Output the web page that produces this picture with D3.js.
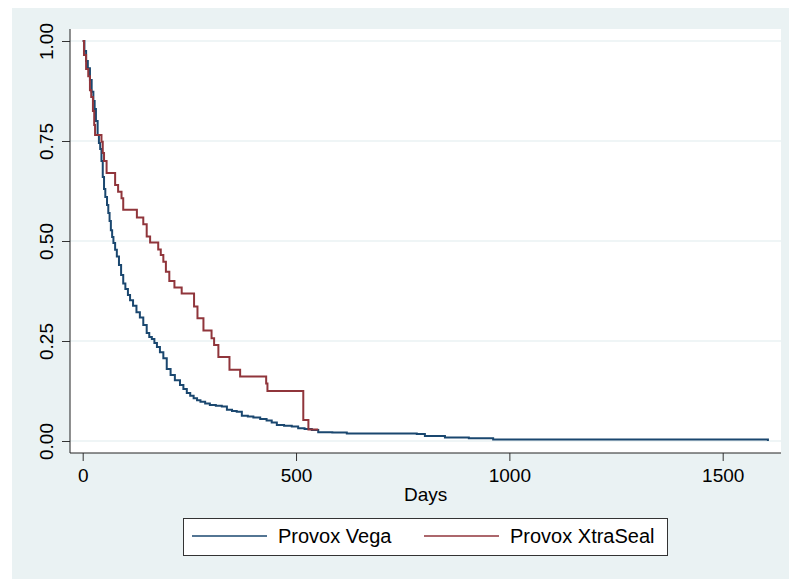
<!DOCTYPE html>
<html lang="en">
<head>
  <meta charset="UTF-8">
  <script src="https://cdn.jsdelivr.net/npm/d3@7"></script>
  <title>Kaplan-Meier Provox</title>
  <style>
    body { margin: 0; background: #fff; }
    text { font-family: "Liberation Sans", Arial, Helvetica, sans-serif; }
  </style>
</head>
<body>
  <script>
  // Kaplan-Meier estimates
  const vegaDays = [0, 4, 8, 12, 17, 21, 25, 28, 31, 35, 38, 41, 44, 47, 50, 53, 57, 60, 63, 66, 69, 72, 76, 80, 85, 90, 95, 100, 106, 111, 118, 126, 134, 142, 150, 156, 162, 168, 174, 181, 189, 197, 206, 216, 228, 236, 244, 252, 260, 268, 276, 287, 298, 312, 326, 338, 350, 361, 373, 387, 400, 416, 431, 443, 455, 472, 490, 505, 520, 537, 552, 585, 619, 783, 802, 849, 905, 962, 1606];
  const vegaSurv = [1.0, 0.975, 0.95, 0.932, 0.9025, 0.873, 0.85, 0.83, 0.80, 0.765, 0.745, 0.73, 0.70, 0.66, 0.63, 0.61, 0.59, 0.57, 0.55, 0.527, 0.51, 0.495, 0.478, 0.461, 0.44, 0.415, 0.394, 0.38, 0.365, 0.352, 0.338, 0.322, 0.309, 0.29, 0.27, 0.26, 0.255, 0.245, 0.235, 0.222, 0.207, 0.18, 0.165, 0.152, 0.14, 0.13, 0.12, 0.113, 0.107, 0.102, 0.098, 0.094, 0.09, 0.088, 0.086, 0.078, 0.075, 0.073, 0.063, 0.061, 0.059, 0.055, 0.051, 0.046, 0.04, 0.038, 0.036, 0.032, 0.03, 0.0275, 0.022, 0.021, 0.019, 0.0175, 0.0125, 0.009, 0.007, 0.004, 0.0];

  const xtraDays = [0, 3, 8, 13, 17, 20, 24, 27, 29, 44, 47, 50, 56, 76, 83, 91, 95, 127, 142, 150, 158, 177, 183, 189, 195, 203, 215, 232, 261, 269, 283, 302, 308, 318, 344, 369, 430, 433, 517, 529, 552];
  const xtraSurv = [1.0, 0.965, 0.93, 0.912, 0.877, 0.86, 0.825, 0.79, 0.765, 0.748, 0.72, 0.70, 0.67, 0.64, 0.623, 0.607, 0.578, 0.559, 0.542, 0.511, 0.496, 0.479, 0.465, 0.448, 0.423, 0.40, 0.384, 0.369, 0.336, 0.307, 0.276, 0.257, 0.24, 0.21, 0.178, 0.161, 0.144, 0.125, 0.0525, 0.029, 0.029];

  const xTicks = [0, 500, 1000, 1500];
  const yTicks = [0, 0.25, 0.5, 0.75, 1];
  const seriesNames = ["Provox Vega", "Provox XtraSeal"];
  const seriesColors = ["#1a476f", "#90353b"];

  const w = 789;
  const h = 579;
  const plot = { left: 70, right: 781, top: 29, bottom: 453 };

  const svg = d3.select("body")
    .append("svg")
    .attr("width", w)
    .attr("height", h);

  // Stata-like background
  svg.append("rect")
    .attr("x", 12).attr("y", 8)
    .attr("width", w - 12).attr("height", h - 8)
    .attr("fill", "#eaf2f3");

  svg.append("rect")
    .attr("x", plot.left).attr("y", plot.top)
    .attr("width", plot.right - plot.left).attr("height", plot.bottom - plot.top)
    .attr("fill", "#fff");

  const x = d3.scaleLinear().domain([0, 1500]).range([82.7, 722.7]);
  const y = d3.scaleLinear().domain([0, 1]).range([441, 41]);

  // gridlines
  svg.append("g")
    .selectAll("line")
    .data(yTicks)
    .enter()
    .append("line")
    .attr("x1", plot.left).attr("x2", plot.right)
    .attr("y1", d => y(d)).attr("y2", d => y(d))
    .attr("stroke", "#eaf2f3")
    .attr("stroke-width", 1.6);

  // y axis
  const yAxis = svg.append("g")
    .attr("transform", `translate(${plot.left},0)`)
    .call(d3.axisLeft(y).tickValues(yTicks).tickFormat(d3.format(".2f")).tickSize(8).tickSizeOuter(0));
  yAxis.select(".domain").remove();
  yAxis.selectAll(".tick line").attr("stroke", "#333");
  yAxis.selectAll(".tick text")
    .attr("transform", "rotate(-90)")
    .attr("x", 0)
    .attr("y", -17)
    .attr("dy", 0)
    .attr("text-anchor", "middle")
    .attr("font-size", 19)
    .attr("fill", "#000")
    .style("font-family", "'Liberation Sans', Arial, sans-serif");

  // x axis
  const xAxis = svg.append("g")
    .attr("transform", `translate(0,${plot.bottom})`)
    .call(d3.axisBottom(x).tickValues(xTicks).tickFormat(d3.format("d")).tickSize(8).tickSizeOuter(0));
  xAxis.select(".domain").remove();
  xAxis.selectAll(".tick line").attr("stroke", "#333");
  xAxis.selectAll(".tick text")
    .attr("y", 29)
    .attr("dy", 0)
    .attr("font-size", 19)
    .attr("fill", "#000")
    .style("font-family", "'Liberation Sans', Arial, sans-serif");

  svg.append("line")
    .attr("x1", plot.left).attr("x2", plot.left)
    .attr("y1", plot.top).attr("y2", plot.bottom)
    .attr("stroke", "#222").attr("stroke-width", 1);
  svg.append("line")
    .attr("x1", plot.left).attr("x2", plot.right)
    .attr("y1", plot.bottom).attr("y2", plot.bottom)
    .attr("stroke", "#222").attr("stroke-width", 1);

  svg.append("text")
    .attr("x", (x(0) + x(1500)) / 2 + 23)
    .attr("y", 501)
    .attr("text-anchor", "middle")
    .attr("font-size", 19)
    .text("Days");

  // survival curves
  const line = d3.line()
    .x(d => x(d[0]))
    .y(d => y(d[1]))
    .curve(d3.curveStepAfter);

  const series = [
    d3.zip(vegaDays, vegaSurv),
    d3.zip(xtraDays, xtraSurv)
  ];

  svg.selectAll("path.km")
    .data(series)
    .enter()
    .append("path")
    .attr("class", "km")
    .attr("d", line)
    .attr("fill", "none")
    .attr("stroke", (d, i) => seriesColors[i])
    .attr("stroke-width", 2);

  // legend
  const lg = svg.append("g");
  lg.append("rect")
    .attr("x", 183.5).attr("y", 518.5)
    .attr("width", 484).attr("height", 37)
    .attr("fill", "#fff")
    .attr("stroke", "#333")
    .attr("stroke-width", 1);

  const lineX = [192, 424];
  const textX = [278, 510];
  seriesNames.forEach(function (name, i) {
    lg.append("line")
      .attr("x1", lineX[i]).attr("x2", lineX[i] + 75)
      .attr("y1", 536).attr("y2", 536)
      .attr("stroke", seriesColors[i])
      .attr("stroke-width", 1.5);
    lg.append("text")
      .attr("x", textX[i])
      .attr("y", 543)
      .attr("font-size", 20)
      .text(name);
  });
  </script>
</body>
</html>
